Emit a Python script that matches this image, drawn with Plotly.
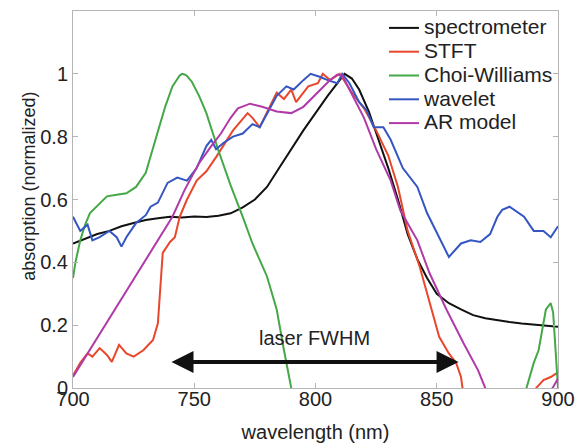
import plotly.graph_objects as go

# ---- data ----
spec_x = [700, 705, 710, 715, 720, 725, 730, 735, 740, 745, 750, 755, 760, 765, 770, 775, 780, 785, 790,
          795, 800, 805, 810, 812, 815, 818, 822, 826, 830, 834, 838, 842, 846, 850, 855, 860, 865, 870,
          875, 880, 885, 890, 895, 900]
spec_y = [0.46, 0.475, 0.49, 0.50, 0.515, 0.525, 0.535, 0.54, 0.545, 0.543, 0.546, 0.544, 0.548, 0.556,
          0.575, 0.60, 0.64, 0.70, 0.76, 0.82, 0.875, 0.93, 0.98, 1.0, 0.985, 0.95, 0.88, 0.79, 0.70,
          0.60, 0.49, 0.41, 0.35, 0.30, 0.27, 0.25, 0.232, 0.222, 0.215, 0.21, 0.205, 0.202, 0.198, 0.195]

stft_x = [700, 703, 706, 708, 711, 714, 716, 719, 722, 725, 729, 733, 735, 736, 737, 740, 742, 744, 747,
          751, 755, 759, 762, 766, 772, 774, 777, 780, 784, 787, 790, 792, 797, 801, 803, 806, 810, 815,
          820, 825, 830, 834, 838, 843, 848, 851, 855, 858, 860, 861, 890, 891, 894, 897, 900]
stft_y = [0.04, 0.08, 0.11, 0.10, 0.127, 0.105, 0.083, 0.137, 0.11, 0.10, 0.12, 0.153, 0.206, 0.334, 0.43,
          0.465, 0.48, 0.545, 0.60, 0.66, 0.69, 0.735, 0.77, 0.82, 0.875, 0.86, 0.83, 0.875, 0.94, 0.92,
          0.95, 0.91, 0.96, 0.97, 1.0, 0.98, 1.0, 0.94, 0.89, 0.82, 0.74, 0.64, 0.50, 0.385, 0.25, 0.163,
          0.11, 0.08, 0.035, -0.02, -0.02, 0.0, 0.025, 0.035, 0.05]

cw_x = [700, 701, 703, 705, 707, 710, 714, 718, 722, 726, 730, 734, 738, 741, 743, 744, 745, 746, 747,
        749, 752, 755, 760, 765, 770, 774, 780, 784, 787, 790, 792, 800, 840, 880, 887, 890, 892, 895,
        897, 898, 900]
cw_y = [0.35, 0.40, 0.47, 0.52, 0.557, 0.58, 0.61, 0.615, 0.62, 0.64, 0.685, 0.79, 0.895, 0.96, 0.985,
        0.995, 1.0, 0.998, 0.993, 0.975, 0.93, 0.875, 0.755, 0.645, 0.545, 0.46, 0.355, 0.25, 0.12, 0.0,
        -0.06, -0.3, -0.6, -0.2, 0.0, 0.08, 0.12, 0.25, 0.27, 0.24, 0.0]

wav_x = [700, 703, 706, 708, 711, 715, 718, 720, 722, 726, 730, 732, 735, 739, 743, 747, 751, 755, 757,
         759, 762, 766, 770, 774, 777, 780, 784, 788, 791, 795, 798, 802, 805, 809, 811, 814, 818, 821,
         824, 828, 831, 836, 842, 846, 851, 855, 860, 864, 868, 872, 875, 877, 880, 884, 886, 890, 894,
         897, 900]
wav_y = [0.545, 0.50, 0.52, 0.47, 0.48, 0.50, 0.48, 0.45, 0.48, 0.525, 0.55, 0.577, 0.59, 0.653, 0.67,
         0.66, 0.70, 0.77, 0.79, 0.76, 0.78, 0.80, 0.81, 0.84, 0.83, 0.875, 0.93, 0.96, 0.95, 0.98, 1.0,
         0.99, 0.98, 0.97, 1.0, 0.97, 0.91, 0.885, 0.83, 0.83, 0.79, 0.70, 0.64, 0.557, 0.48, 0.417,
         0.46, 0.47, 0.465, 0.49, 0.545, 0.567, 0.577, 0.557, 0.545, 0.50, 0.50, 0.48, 0.515]

ar_x = [700, 710, 720, 730, 741, 746, 752, 757, 761, 765, 768, 773, 778, 784, 790, 795, 801, 806, 809,
        811, 814, 820, 825, 831, 835, 842, 847, 854, 861, 867, 870, 872, 895, 898, 900]
ar_y = [0.035, 0.16, 0.285, 0.41, 0.545, 0.63, 0.716, 0.77, 0.81, 0.86, 0.89, 0.905, 0.895, 0.88, 0.875,
        0.895, 0.94, 0.98, 0.998, 0.995, 0.95, 0.86, 0.76, 0.66, 0.565, 0.47, 0.366, 0.25, 0.143, 0.057,
        0.0, -0.03, -0.03, 0.003, 0.03]

names = ["spectrometer", "STFT", "Choi-Williams", "wavelet", "AR model"]
colors = ["#111111", "#e8472c", "#45a847", "#3556c2", "#b03ba8"]

x_ticks = [700, 750, 800, 850, 900]
y_ticks = [0, 0.2, 0.4, 0.6, 0.8, 1]
y_tick_text = ["0", "0.2", "0.4", "0.6", "0.8", "1"]

fwhm_start, fwhm_end, fwhm_y = 740, 859, 0.083

FONT = "Liberation Sans, Arial, Helvetica, sans-serif"

fig = go.Figure()
series = [(spec_x, spec_y), (stft_x, stft_y), (cw_x, cw_y), (wav_x, wav_y), (ar_x, ar_y)]
for (xs, ys), name, col in zip(series, names, colors):
    fig.add_trace(go.Scatter(x=xs, y=ys, mode="lines",
                             name='<span style="font-size:21px">' + name + '</span>',
                             line=dict(color=col, width=2)))

axis_common = dict(showline=True, linecolor="#b5b5b5", linewidth=1, mirror="ticks",
                   ticks="inside", ticklen=5, tickcolor="#b5b5b5", showgrid=False, zeroline=False,
                   tickfont=dict(family=FONT, size=20, color="#222"))

fig.update_layout(
    width=578, height=443,
    margin=dict(l=73, r=20, t=11, b=55, autoexpand=False),
    paper_bgcolor="white", plot_bgcolor="white",
    font=dict(family=FONT, size=20, color="#222"),
    xaxis=dict(range=[700, 900], tickvals=x_ticks, ticktext=[str(v) for v in x_ticks],
               ticklabelstandoff=-7,
               title=dict(text="wavelength (nm)", font=dict(size=20), standoff=18), **axis_common),
    yaxis=dict(range=[0, 1.2], tickvals=y_ticks, ticktext=y_tick_text, **axis_common),
    legend=dict(x=1.0, xanchor="right", y=1.0, yanchor="top", bgcolor="rgba(0,0,0,0)",
                font=dict(family=FONT, size=16, color="#222"), itemwidth=30,
                tracegroupgap=0),
    showlegend=True,
)

fig.add_annotation(xref="paper", yref="paper", x=-0.09, y=0.535, text="absorption (normalized)",
                   textangle=-90, showarrow=False, font=dict(family=FONT, size=18, color="#222"),
                   xanchor="center", yanchor="middle")

fig.add_annotation(x=fwhm_end, y=fwhm_y, ax=fwhm_start, ay=fwhm_y, xref="x", yref="y",
                   axref="x", ayref="y", text="", showarrow=True, arrowhead=2, startarrowhead=2,
                   arrowside="end+start", arrowwidth=4, arrowsize=1.1, startarrowsize=1.1,
                   arrowcolor="#111")
fig.add_annotation(x=(fwhm_start + fwhm_end) / 2, y=0.16, xref="x", yref="y", text="laser FWHM",
                   showarrow=False, font=dict(family=FONT, size=20, color="#222"))

fig.write_html("out.html", config={"displayModeBar": False},
               post_script="document.body.style.margin='0';document.body.style.padding='0';")
